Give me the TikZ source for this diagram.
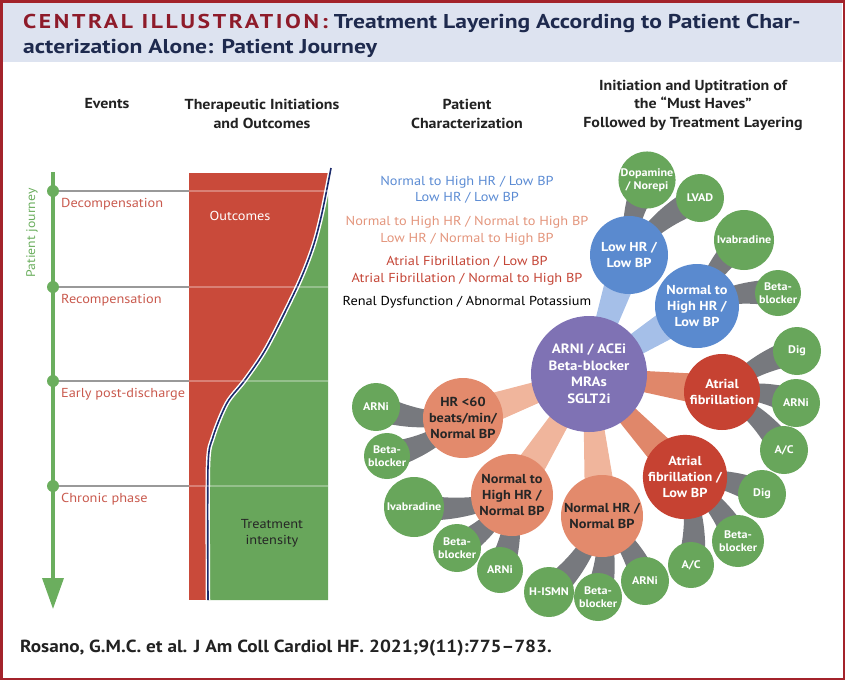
\documentclass[tikz,border=0pt]{standalone}
\usepackage{fontspec}
\setmainfont{PT Sans}[FakeStretch=1.1]
\newfontfamily\titlefont[FakeStretch=1.18]{PT Sans}
\newfontfamily\titlecaps[FakeStretch=1.18,LetterSpace=13]{PT Sans}
\usetikzlibrary{arrows.meta,calc}
\definecolor{frameC}{HTML}{A3232B}
\definecolor{bandC}{HTML}{DDE3F0}
\definecolor{titleRed}{HTML}{8E1B2A}
\definecolor{titleNavy}{HTML}{1E2A4E}
\definecolor{redC}{HTML}{C94A3A}
\definecolor{afC}{HTML}{C64232}
\definecolor{grnC}{HTML}{68A65B}
\definecolor{jgrn}{HTML}{6BAE5E}
\definecolor{blueC}{HTML}{5A8ACF}
\definecolor{blueStem}{HTML}{A5BFE8}
\definecolor{purpC}{HTML}{7F72B4}
\definecolor{salC}{HTML}{E38A6C}
\definecolor{salStem}{HTML}{F0B59C}
\definecolor{redStem}{HTML}{E0876A}
\definecolor{greyStem}{HTML}{77797E}
\definecolor{evtC}{HTML}{C95A4E}
\definecolor{listBlue}{HTML}{5B8BD3}
\definecolor{listSal}{HTML}{E3957C}
\definecolor{listRed}{HTML}{C44536}
\definecolor{navyC}{HTML}{1B2A6B}
\definecolor{headC}{HTML}{222222}
\pgfdeclarelayer{bg}
\pgfsetlayers{bg,main}
% tapered stem: parent, child, colour, narrow half width, wide half width, bend
\newcommand*\stem[6]{%
  \fill[#3] ($(#1)!#4!90:(#2)$) to[bend left=#6] ($(#2)!#5!-90:(#1)$)
    -- ($(#2)!#5!90:(#1)$) to[bend right=#6] ($(#1)!#4!-90:(#2)$) -- cycle;}

\begin{document}
\begin{tikzpicture}[x=1pt,y=-1pt,
    head/.style={font=\bfseries\fontsize{14.5}{18.5}\selectfont,text=headC,align=center},
    list/.style={font=\fontsize{13}{15}\selectfont,align=center},
    evt/.style={anchor=west,text=evtC,font=\fontsize{13}{15}\selectfont,inner sep=0},
    dot/.style={circle,fill=jgrn,minimum size=12pt,inner sep=0},
    rule/.style={draw=black!40,line width=2pt},
    bubble/.style={circle,inner sep=0,align=center,
      font=\bfseries\fontsize{13}{16}\selectfont},
    hubc/.style={bubble,fill=purpC,text=white,minimum size=116pt,
      font=\bfseries\fontsize{13.5}{16.5}\selectfont},
    bluec/.style={bubble,fill=blueC,text=white},
    redc/.style={bubble,fill=afC,text=white,minimum size=76pt},
    salc/.style={bubble,fill=salC,text=black!85,minimum size=82pt},
    drug/.style={circle,inner sep=0,align=center,fill=grnC,text=white,
      minimum size=48pt,font=\bfseries\fontsize{11}{12.5}\selectfont}]
\useasboundingbox (0,0) rectangle (845,680);
% frame and title
\fill[bandC] (3,3) rectangle (842,62);
\draw[frameC,line width=2.5pt] (1.25,1.25) rectangle (843.75,678.75);
\node (title1) at (23,28) [anchor=base west,inner sep=0,text=titleNavy,
  font=\titlefont\bfseries\fontsize{20}{25}\selectfont]
  {\textcolor{titleRed}{\titlecaps CENTRAL ILLUSTRATION:} Treatment Layering According to Patient Char-};
\node (title2) at (23,53) [anchor=base west,inner sep=0,text=titleNavy,
  font=\titlefont\bfseries\fontsize{20}{25}\selectfont]
  {acterization Alone: Patient Journey};
\node (cite) at (20,648) [anchor=west,inner sep=0,text=headC,
  font=\bfseries\fontsize{17.5}{20}\selectfont]
  {Rosano, G.M.C. et al. J Am Coll Cardiol HF. 2021;9(11):775--783.};

% column heads
\node (hevt) at (107,104) [head] {Events};
\node (hther) at (262,114) [head] {Therapeutic Initiations\\and Outcomes};
\node (hpat) at (467,114) [head] {Patient\\Characterization};
\node (hmust) at (693,105) [head] {Initiation and Uptitration of\\the “Must Haves”\\Followed by Treatment Layering};

% treatment chart
\coordinate (chartnw) at (189,173);
\coordinate (chartse) at (328,600);
\begin{scope}
  \clip (chartnw) rectangle (chartse);
  \fill[redC] (chartnw) rectangle (chartse);
  \fill[grnC] plot[smooth] coordinates {(331,168) (322,213) (313,247) (298,285)
    (267,347) (245,380) (227,403) (213,437) (208,467) (208,600)}
    -- (340,600) -- (340,160) -- cycle;
\end{scope}
\draw[white,line width=4.5pt] plot[smooth] coordinates {(331,168) (322,213) (313,247)
  (298,285) (267,347) (245,380) (227,403) (213,437) (208,467) (208,600)};
\draw[navyC,line width=1.6pt] plot[smooth] coordinates {(331,168) (322,213) (313,247)
  (298,285) (267,347) (245,380) (227,403) (213,437) (208,467) (208,600)};
\node (outc) at (240,216) [text=white,font=\fontsize{13}{15}\selectfont] {Outcomes};
\node (tint) at (272,533) [text=black!85,align=center,font=\fontsize{13}{16}\selectfont] {Treatment\\intensity};

% patient journey
\coordinate (jtop) at (53,172);
\coordinate (jend) at (53,609);
\draw[jgrn,line width=3.5pt,-{Triangle[width=21pt,length=31pt]}] (jtop) -- (jend);
\node (jlab) at (32,233) [rotate=90,text=jgrn,font=\fontsize{12.5}{14}\selectfont] {Patient journey};
\foreach \nm/\y/\txt in {dec/191/Decompensation,rec/287/Recompensation,
    epd/381/Early post-discharge,chr/486/Chronic phase}{
  \draw[rule] (53,\y) -- (189,\y);
  \draw[white,opacity=.3,line width=1.5pt] (189,\y) -- (328,\y);
  \node (\nm) at (53,\y) [dot] {};
  \node (\nm lab) at (61,\y+13) [evt] {\txt};
}

% patient characterization
\node (c1) at (467,182) [list,text=listBlue] {Normal to High HR / Low BP};
\node (c2) at (467,198) [list,text=listBlue] {Low HR / Low BP};
\node (c3) at (467,222) [list,text=listSal] {Normal to High HR / Normal to High BP};
\node (c4) at (467,239) [list,text=listSal] {Low HR / Normal to High BP};
\node (c5) at (467,262) [list,text=listRed] {Atrial Fibrillation / Low BP};
\node (c6) at (467,279) [list,text=listRed] {Atrial Fibrillation / Normal to High BP};
\node (c7) at (467,302) [list,text=black] {Renal Dysfunction / Abnormal Potassium};

% bubbles
\node (hub) at (589,374) [hubc] {ARNI / ACEi\\Beta-blocker\\MRAs\\SGLT2i};
\node (lowhr) at (629,255) [bluec,minimum size=78pt] {Low HR /\\Low BP};
\node (nhlow) at (697,306) [bluec,minimum size=84pt] {Normal to\\High HR /\\Low BP};
\node (af) at (722,392) [redc] {Atrial\\fibrillation};
\node (aflow) at (685,477) [redc] {Atrial\\fibrillation /\\Low BP};
\node (nhr) at (602,516) [salc] {Normal HR /\\Normal BP};
\node (nhnbp) at (512,495) [salc] {Normal to\\High HR /\\Normal BP};
\node (hr60) at (463,418) [salc,minimum size=80pt] {HR <60\\beats/min/\\Normal BP};

\node (dopa) at (647,180) [drug,minimum size=56pt] {Dopamine\\/ Norepi};
\node (lvad) at (700,198) [drug] {LVAD};
\node (ivab1) at (744,240) [drug,minimum size=60pt] {Ivabradine};
\node (bb1) at (778,293) [drug,minimum size=46pt] {Beta-\\blocker};
\node (dig1) at (797,351) [drug] {Dig};
\node (arni1) at (796,403) [drug] {ARNi};
\node (ac1) at (784,450) [drug] {A/C};
\node (dig2) at (762,494) [drug] {Dig};
\node (bb2) at (738,541) [drug,minimum size=52pt] {Beta-\\blocker};
\node (ac2) at (691,565) [drug,minimum size=46pt] {A/C};
\node (arni2) at (645,581) [drug] {ARNi};
\node (bb3) at (598,597) [drug] {Beta-\\blocker};
\node (hismn) at (549,592) [drug,minimum size=50pt] {H-ISMN};
\node (arni3) at (500,570) [drug,minimum size=46pt] {ARNi};
\node (bb4) at (457,548) [drug] {Beta-\\blocker};
\node (ivab2) at (414,507) [drug,minimum size=60pt] {Ivabradine};
\node (arni4) at (376,407) [drug] {ARNi};
\node (bb5) at (387,456) [drug,minimum size=46pt] {Beta-\\blocker};

% stems
\begin{pgfonlayer}{bg}
  \stem{hub}{lowhr}{blueStem}{7pt}{17pt}{0}
  \stem{hub}{nhlow}{blueStem}{7pt}{17pt}{0}
  \stem{hub}{af}{redStem}{6pt}{17pt}{0}
  \stem{hub}{aflow}{redStem}{6pt}{17pt}{0}
  \stem{hub}{nhr}{salStem}{6pt}{17pt}{0}
  \stem{hub}{nhnbp}{salStem}{6pt}{17pt}{0}
  \stem{hub}{hr60}{salStem}{6pt}{17pt}{0}
  \foreach \a/\b in {lowhr/dopa,lowhr/lvad,nhlow/ivab1,nhlow/bb1,
      af/dig1,af/arni1,af/ac1,aflow/dig2,aflow/bb2,aflow/ac2,
      nhr/arni2,nhr/bb3,nhr/hismn,nhnbp/arni3,nhnbp/bb4,nhnbp/ivab2,
      hr60/arni4,hr60/bb5}
    \stem{\a}{\b}{greyStem}{5pt}{14pt}{12};
\end{pgfonlayer}
\end{tikzpicture}
\end{document}
